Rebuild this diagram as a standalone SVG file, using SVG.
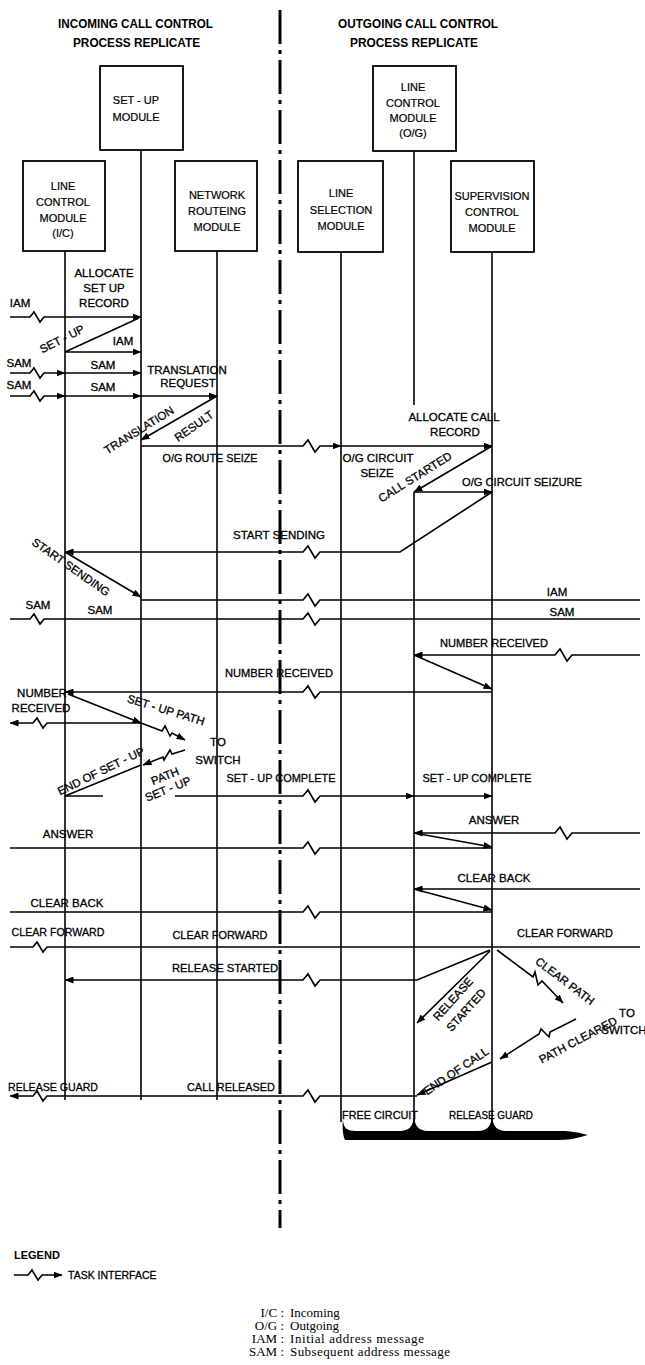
<svg xmlns="http://www.w3.org/2000/svg" width="645" height="1365" viewBox="0 0 645 1365">
<defs>
<marker id="ah" markerWidth="9" markerHeight="7" refX="8.5" refY="3.5" orient="auto" markerUnits="userSpaceOnUse">
<path d="M0,0 L9,3.5 L0,7 z" fill="#000"/>
</marker>
<style>
.ln{fill:none;stroke:#000;stroke-width:1.6}
.ar{fill:none;stroke:#000;stroke-width:1.6;marker-end:url(#ah)}
.life{stroke:#000;stroke-width:1.6}
.box{fill:#fff;stroke:#000;stroke-width:1.8}
.cl{stroke:#000;stroke-width:3;stroke-dasharray:34 6 4 6}
.t{font-family:"Liberation Sans",Arial,sans-serif;font-size:11.5px;fill:#000;stroke:#000;stroke-width:0.3;text-anchor:middle}
.b{font-family:"Liberation Sans",Arial,sans-serif;font-size:11px;fill:#000;stroke:#000;stroke-width:0.2;text-anchor:middle}
.h{font-family:"Liberation Sans",Arial,sans-serif;font-size:13px;font-weight:bold;fill:#000}
.fn{font-family:"Liberation Serif","Times New Roman",serif;font-size:13px;fill:#000}
</style>
</defs>
<rect width="645" height="1365" fill="#fff"/>

<g id="headers">
<text class="h" x="58" y="28" textLength="155" lengthAdjust="spacingAndGlyphs">INCOMING CALL CONTROL</text>
<text class="h" x="73" y="47" textLength="127" lengthAdjust="spacingAndGlyphs">PROCESS REPLICATE</text>
<text class="h" x="338" y="28" textLength="160" lengthAdjust="spacingAndGlyphs">OUTGOING CALL CONTROL</text>
<text class="h" x="350" y="47" textLength="128" lengthAdjust="spacingAndGlyphs">PROCESS REPLICATE</text>
</g>

<g id="centre-line">
<line class="cl" x1="280" y1="10" x2="280" y2="1228"/>
</g>

<g id="lifelines">
<line class="life" x1="65" y1="251" x2="65" y2="1100"/>
<line class="life" x1="141" y1="150" x2="141" y2="1100"/>
<line class="life" x1="217" y1="251" x2="217" y2="1100"/>
<line class="life" x1="341" y1="252" x2="341" y2="1122"/>
<line class="life" x1="414" y1="151" x2="414" y2="405"/>
<line class="life" x1="414" y1="492" x2="414" y2="1122"/>
<line class="life" x1="492" y1="252" x2="492" y2="1122"/>
</g>

<g id="setup-module">
<rect class="box" x="100" y="66" width="83" height="84"/>
<text class="b" x="136" y="104">SET - UP</text>
<text class="b" x="136" y="121">MODULE</text>
</g>
<g id="line-control-og">
<rect class="box" x="373" y="66" width="83" height="85"/>
<text class="b" x="413" y="91">LINE</text>
<text class="b" x="413" y="107">CONTROL</text>
<text class="b" x="413" y="122">MODULE</text>
<text class="b" x="413" y="137">(O/G)</text>
</g>
<g id="line-control-ic">
<rect class="box" x="23" y="161" width="82" height="90"/>
<text class="b" x="63" y="190">LINE</text>
<text class="b" x="63" y="206">CONTROL</text>
<text class="b" x="63" y="222">MODULE</text>
<text class="b" x="63" y="237">(I/C)</text>
</g>
<g id="network-routeing">
<rect class="box" x="175" y="161" width="82" height="90"/>
<text class="b" x="217" y="199">NETWORK</text>
<text class="b" x="217" y="215">ROUTEING</text>
<text class="b" x="217" y="231">MODULE</text>
</g>
<g id="line-selection">
<rect class="box" x="298" y="161" width="85" height="91"/>
<text class="b" x="341" y="197">LINE</text>
<text class="b" x="341" y="214">SELECTION</text>
<text class="b" x="341" y="230">MODULE</text>
</g>
<g id="supervision-control">
<rect class="box" x="451" y="161" width="83" height="91"/>
<text class="b" x="492" y="200">SUPERVISION</text>
<text class="b" x="492" y="216">CONTROL</text>
<text class="b" x="492" y="232">MODULE</text>
</g>

<g id="connectors">
<path class="ar" d="M10,317 H30 l4,-5 l6,10 l4,-5 H141"/>
<path class="ln" d="M65,352 L139,318"/>
<path class="ar" d="M65,352 H141"/>
<path class="ar" d="M10,373 H30 l4,-5 l6,10 l4,-5 H65"/>
<path class="ar" d="M65,373 H141"/>
<path class="ar" d="M10,396 H30 l4,-5 l6,10 l4,-5 H65"/>
<path class="ar" d="M65,396 H141"/>
<path class="ar" d="M141,396 H217"/>
<path class="ar" d="M217,396 L141,440"/>
<path class="ar" d="M141,446 H303 l5,-6 l7,12 l5,-6 H341"/>
<path class="ar" d="M341,446 H492"/>
<path class="ar" d="M492,446 L414,492"/>
<path class="ar" d="M414,492 H492"/>
<path class="ar" d="M492,492 L400,552 H320 l-5,6 l-7,-12 l-5,6 H65"/>
<path class="ar" d="M65,552 L141,597"/>
<path class="ln" d="M141,600 H303 l5,-6 l7,12 l5,-6 H640"/>
<path class="ln" d="M10,619 H30 l4,-5 l6,10 l4,-5 H303 l5,-6 l7,12 l5,-6 H640"/>
<path class="ar" d="M640,655 H572 l-5,6 l-7,-12 l-5,6 H414"/>
<path class="ar" d="M414,655 L492,689"/>
<path class="ar" d="M492,692 H320 l-5,6 l-7,-12 l-5,6 H65"/>
<path class="ar" d="M68,694 L141,723"/>
<path class="ar" d="M141,723 L162,731 l3,-5 l5,10 l2,-3 L185,740"/>
<path class="ar" d="M141,723 H47 l-4,5 l-6,-10 l-4,5 H10"/>
<path class="ar" d="M185,750 L172,754 l-2,-4 l-6,10 l-1,-3 L143,765"/>
<path class="ln" d="M141,765 L65,796"/>
<path class="ln" d="M65,796 H103"/>
<path class="ar" d="M175,796 H303 l5,-6 l7,12 l5,-6 H414"/>
<path class="ar" d="M414,796 H492"/>
<path class="ar" d="M640,833 H572 l-5,6 l-7,-12 l-5,6 H414"/>
<path class="ar" d="M414,833 L492,847"/>
<path class="ln" d="M492,848 H320 l-5,6 l-7,-12 l-5,6 H10"/>
<path class="ar" d="M640,889 H414"/>
<path class="ar" d="M414,889 L492,910"/>
<path class="ln" d="M492,912 H320 l-5,6 l-7,-12 l-5,6 H10"/>
<path class="ln" d="M10,947 H33 l4,-5 l6,10 l4,-5 H640"/>
<path class="ar" d="M490,950 L417,980 H320 l-5,6 l-7,-12 l-5,6 H65"/>
<path class="ar" d="M490,951 L417,1023"/>
<path class="ar" d="M497,950 L533,977 l2,-5 l3,13 l4,-4 L563,1003"/>
<path class="ar" d="M576,1019 L550,1032 l-1,5 l-8,-8 l-2,5 L500,1059"/>
<path class="ar" d="M492,1062 L417,1095"/>
<path class="ar" d="M417,1096 H320 l-5,6 l-7,-12 l-5,6 H47 l-4,5 l-6,-10 l-4,5 H10"/>
</g>

<g id="labels">
<text class="t" x="104" y="277">ALLOCATE</text>
<text class="t" x="104" y="292">SET  UP</text>
<text class="t" x="104" y="307">RECORD</text>
<text class="t" x="20" y="307">IAM</text>
<text class="t" transform="translate(62,339) rotate(-27)" x="0" y="4">SET - UP</text>
<text class="t" x="123" y="345">IAM</text>
<text class="t" x="19" y="367">SAM</text>
<text class="t" x="103" y="369">SAM</text>
<text class="t" x="19" y="389">SAM</text>
<text class="t" x="103" y="391">SAM</text>
<text class="t" x="187" y="374">TRANSLATION</text>
<text class="t" x="188" y="387">REQUEST</text>
<text class="t" transform="translate(139,430) rotate(-32)" x="0" y="4">TRANSLATION</text>
<text class="t" transform="translate(194,426) rotate(-35)" x="0" y="4">RESULT</text>
<text class="t" x="210" y="462" textLength="95" lengthAdjust="spacingAndGlyphs">O/G ROUTE SEIZE</text>
<text class="t" x="378" y="462">O/G CIRCUIT</text>
<text class="t" x="377" y="477">SEIZE</text>
<text class="t" x="454" y="421">ALLOCATE CALL</text>
<text class="t" x="455" y="436">RECORD</text>
<text class="t" transform="translate(415,477) rotate(-32)" x="0" y="4">CALL STARTED</text>
<text class="t" x="522" y="486" textLength="120" lengthAdjust="spacingAndGlyphs">O/G CIRCUIT SEIZURE</text>
<text class="t" x="279" y="539">START SENDING</text>
<text class="t" transform="translate(71,567) rotate(35)" x="0" y="4">START SENDING</text>
<text class="t" x="557" y="596">IAM</text>
<text class="t" x="38" y="609">SAM</text>
<text class="t" x="100" y="614">SAM</text>
<text class="t" x="562" y="616">SAM</text>
<text class="t" x="494" y="647" textLength="108" lengthAdjust="spacingAndGlyphs">NUMBER RECEIVED</text>
<text class="t" x="279" y="677" textLength="108" lengthAdjust="spacingAndGlyphs">NUMBER RECEIVED</text>
<text class="t" x="42" y="697">NUMBER</text>
<text class="t" x="41" y="712">RECEIVED</text>
<text class="t" transform="translate(166,710) rotate(17)" x="0" y="4">SET - UP PATH</text>
<text class="t" x="218" y="746">TO</text>
<text class="t" x="218" y="764">SWITCH</text>
<text class="t" transform="translate(101,771) rotate(-26)" x="0" y="4">END OF SET - UP</text>
<text class="t" transform="translate(165,776) rotate(-22)" x="0" y="4">PATH</text>
<text class="t" transform="translate(168,789) rotate(-22)" x="0" y="4">SET - UP</text>
<text class="t" x="281" y="782" textLength="109" lengthAdjust="spacingAndGlyphs">SET - UP COMPLETE</text>
<text class="t" x="477" y="782" textLength="109" lengthAdjust="spacingAndGlyphs">SET - UP COMPLETE</text>
<text class="t" x="494" y="824">ANSWER</text>
<text class="t" x="68" y="838">ANSWER</text>
<text class="t" x="494" y="882">CLEAR BACK</text>
<text class="t" x="67" y="907">CLEAR BACK</text>
<text class="t" x="58" y="936" textLength="93" lengthAdjust="spacingAndGlyphs">CLEAR FORWARD</text>
<text class="t" x="220" y="939" textLength="95" lengthAdjust="spacingAndGlyphs">CLEAR FORWARD</text>
<text class="t" x="565" y="937" textLength="96" lengthAdjust="spacingAndGlyphs">CLEAR FORWARD</text>
<text class="t" x="225" y="972" textLength="106" lengthAdjust="spacingAndGlyphs">RELEASE STARTED</text>
<text class="t" transform="translate(453,999) rotate(-48)" x="0" y="4">RELEASE</text>
<text class="t" transform="translate(466,1010) rotate(-48)" x="0" y="4">STARTED</text>
<text class="t" transform="translate(565,981) rotate(37)" x="0" y="4">CLEAR PATH</text>
<text class="t" x="627" y="1017">TO</text>
<text class="t" x="624" y="1034">SWITCH</text>
<text class="t" transform="translate(578,1040) rotate(-28)" x="0" y="4">PATH CLEARED</text>
<text class="t" transform="translate(456,1071) rotate(-34)" x="0" y="4">END OF CALL</text>
<text class="t" x="8" y="1091" textLength="90" lengthAdjust="spacingAndGlyphs" style="text-anchor:start">RELEASE GUARD</text>
<text class="t" x="231" y="1091" textLength="88" lengthAdjust="spacingAndGlyphs">CALL RELEASED</text>
<text class="t" x="380" y="1119" textLength="76" lengthAdjust="spacingAndGlyphs">FREE CIRCUIT</text>
<text class="t" x="491" y="1119" textLength="84" lengthAdjust="spacingAndGlyphs">RELEASE GUARD</text>
</g>

<g id="release-brace">
<path fill="#000" d="M343,1119 C343,1128 347,1131 356,1131 L400,1131 C409,1131 413,1126 414,1117 C415,1126 419,1131 428,1131 L478,1131 C487,1131 491,1126 492,1117 C493,1126 497,1131 506,1131 L560,1131 C572,1131 580,1133 588,1135 C580,1137 572,1140 560,1140 L345,1140 C343,1136 342,1128 343,1119 Z"/>
</g>

<g id="legend">
<text class="h" x="14" y="1259" style="font-size:11px">LEGEND</text>
<path class="ar" d="M14,1275 H28 l4,-5 l6,10 l4,-5 H62"/>
<text class="t" x="68" y="1279" style="text-anchor:start;font-size:10.5px">TASK INTERFACE</text>
</g>

<g id="footnotes">
<text class="fn" x="284" y="1317" text-anchor="end">I/C :</text>
<text class="fn" x="290" y="1317">Incoming</text>
<text class="fn" x="284" y="1330" text-anchor="end">O/G :</text>
<text class="fn" x="290" y="1330">Outgoing</text>
<text class="fn" x="284" y="1343" text-anchor="end">IAM :</text>
<text class="fn" x="290" y="1343" textLength="134">Initial address message</text>
<text class="fn" x="284" y="1356" text-anchor="end">SAM :</text>
<text class="fn" x="290" y="1356" textLength="160">Subsequent address message</text>
</g>
</svg>
